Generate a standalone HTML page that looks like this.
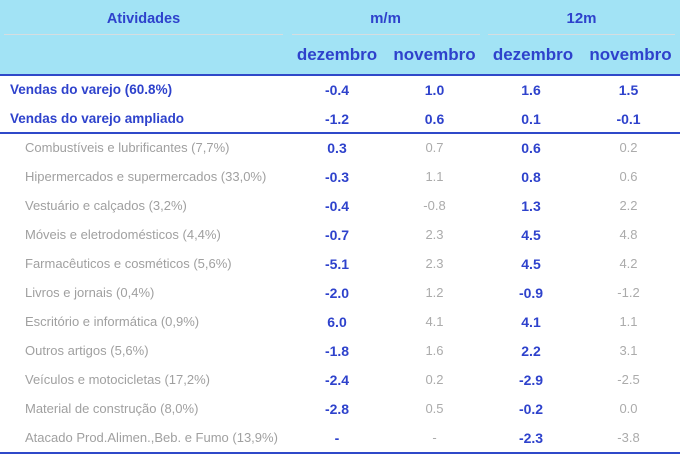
<!DOCTYPE html>
<html><head><meta charset="utf-8"><style>
*{margin:0;padding:0;box-sizing:border-box}
body{width:680px;height:454px;background:#fff;position:relative;overflow:hidden;font-family:"Liberation Sans",Arial,sans-serif}
.hdr{position:absolute;left:0;top:0;width:680px;height:74px;background:#a2e3f5}
.sep{position:absolute;top:33.5px;height:1.5px;background:#d6dde0}
.ln{position:absolute;left:0;width:680px;background:#2f49c9}
.t{position:absolute;white-space:nowrap;height:20px;line-height:20px}
.c{text-align:center;width:100px}
.hb{color:#2e42cc;font-weight:bold}
.b{color:#2e42cc;font-weight:bold;font-size:14px}
.g{color:#ababab;font-size:13px}
.lab{color:#a0a0a0;font-size:13px;left:25px}
.lb{color:#2e42cc;font-weight:bold;font-size:13.5px;left:10px}
</style></head><body>
<div class="hdr"></div>
<div class="sep" style="left:4px;width:279px"></div>
<div class="sep" style="left:292px;width:188px"></div>
<div class="sep" style="left:488px;width:187px"></div>
<div class="t hb" style="left:93.5px;top:9px;width:100px;text-align:center;font-size:14.5px">Atividades</div>
<div class="t hb c" style="left:335.5px;top:9px;font-size:15px">m/m</div>
<div class="t hb c" style="left:531.5px;top:9px;font-size:15px">12m</div>
<div class="t hb c" style="left:287px;top:45px;font-size:17px">dezembro</div>
<div class="t hb c" style="left:384.5px;top:45px;font-size:17px">novembro</div>
<div class="t hb c" style="left:483px;top:45px;font-size:17px">dezembro</div>
<div class="t hb c" style="left:580.5px;top:45px;font-size:17px">novembro</div>
<div class="ln" style="top:74px;height:1.5px"></div>

<div class="t lb" style="top:80px">Vendas do varejo (60.8%)</div>
<div class="t b c" style="left:287px;top:80px">-0.4</div>
<div class="t b c" style="left:384.5px;top:80px">1.0</div>
<div class="t b c" style="left:481px;top:80px">1.6</div>
<div class="t b c" style="left:578.5px;top:80px">1.5</div>

<div class="t lb" style="top:109px">Vendas do varejo ampliado</div>
<div class="t b c" style="left:287px;top:109px">-1.2</div>
<div class="t b c" style="left:384.5px;top:109px">0.6</div>
<div class="t b c" style="left:481px;top:109px">0.1</div>
<div class="t b c" style="left:578.5px;top:109px">-0.1</div>
<div class="ln" style="top:132px;height:1.5px"></div>

<div class="t lab" style="top:138px">Combustíveis e lubrificantes (7,7%)</div>
<div class="t b c" style="left:287px;top:138px">0.3</div>
<div class="t g c" style="left:384.5px;top:138px">0.7</div>
<div class="t b c" style="left:481px;top:138px">0.6</div>
<div class="t g c" style="left:578.5px;top:138px">0.2</div>

<div class="t lab" style="top:167px">Hipermercados e supermercados (33,0%)</div>
<div class="t b c" style="left:287px;top:167px">-0.3</div>
<div class="t g c" style="left:384.5px;top:167px">1.1</div>
<div class="t b c" style="left:481px;top:167px">0.8</div>
<div class="t g c" style="left:578.5px;top:167px">0.6</div>

<div class="t lab" style="top:196px">Vestuário e calçados (3,2%)</div>
<div class="t b c" style="left:287px;top:196px">-0.4</div>
<div class="t g c" style="left:384.5px;top:196px">-0.8</div>
<div class="t b c" style="left:481px;top:196px">1.3</div>
<div class="t g c" style="left:578.5px;top:196px">2.2</div>

<div class="t lab" style="top:225px">Móveis e eletrodomésticos (4,4%)</div>
<div class="t b c" style="left:287px;top:225px">-0.7</div>
<div class="t g c" style="left:384.5px;top:225px">2.3</div>
<div class="t b c" style="left:481px;top:225px">4.5</div>
<div class="t g c" style="left:578.5px;top:225px">4.8</div>

<div class="t lab" style="top:254px">Farmacêuticos e cosméticos (5,6%)</div>
<div class="t b c" style="left:287px;top:254px">-5.1</div>
<div class="t g c" style="left:384.5px;top:254px">2.3</div>
<div class="t b c" style="left:481px;top:254px">4.5</div>
<div class="t g c" style="left:578.5px;top:254px">4.2</div>

<div class="t lab" style="top:283px">Livros e jornais (0,4%)</div>
<div class="t b c" style="left:287px;top:283px">-2.0</div>
<div class="t g c" style="left:384.5px;top:283px">1.2</div>
<div class="t b c" style="left:481px;top:283px">-0.9</div>
<div class="t g c" style="left:578.5px;top:283px">-1.2</div>

<div class="t lab" style="top:312px">Escritório e informática (0,9%)</div>
<div class="t b c" style="left:287px;top:312px">6.0</div>
<div class="t g c" style="left:384.5px;top:312px">4.1</div>
<div class="t b c" style="left:481px;top:312px">4.1</div>
<div class="t g c" style="left:578.5px;top:312px">1.1</div>

<div class="t lab" style="top:341px">Outros artigos (5,6%)</div>
<div class="t b c" style="left:287px;top:341px">-1.8</div>
<div class="t g c" style="left:384.5px;top:341px">1.6</div>
<div class="t b c" style="left:481px;top:341px">2.2</div>
<div class="t g c" style="left:578.5px;top:341px">3.1</div>

<div class="t lab" style="top:370px">Veículos e motocicletas (17,2%)</div>
<div class="t b c" style="left:287px;top:370px">-2.4</div>
<div class="t g c" style="left:384.5px;top:370px">0.2</div>
<div class="t b c" style="left:481px;top:370px">-2.9</div>
<div class="t g c" style="left:578.5px;top:370px">-2.5</div>

<div class="t lab" style="top:399px">Material de construção (8,0%)</div>
<div class="t b c" style="left:287px;top:399px">-2.8</div>
<div class="t g c" style="left:384.5px;top:399px">0.5</div>
<div class="t b c" style="left:481px;top:399px">-0.2</div>
<div class="t g c" style="left:578.5px;top:399px">0.0</div>

<div class="t lab" style="top:428px">Atacado Prod.Alimen.,Beb. e Fumo (13,9%)</div>
<div class="t b c" style="left:287px;top:428px">-</div>
<div class="t g c" style="left:384.5px;top:428px">-</div>
<div class="t b c" style="left:481px;top:428px">-2.3</div>
<div class="t g c" style="left:578.5px;top:428px">-3.8</div>
<div class="ln" style="top:451.5px;height:2px"></div>
</body></html>
